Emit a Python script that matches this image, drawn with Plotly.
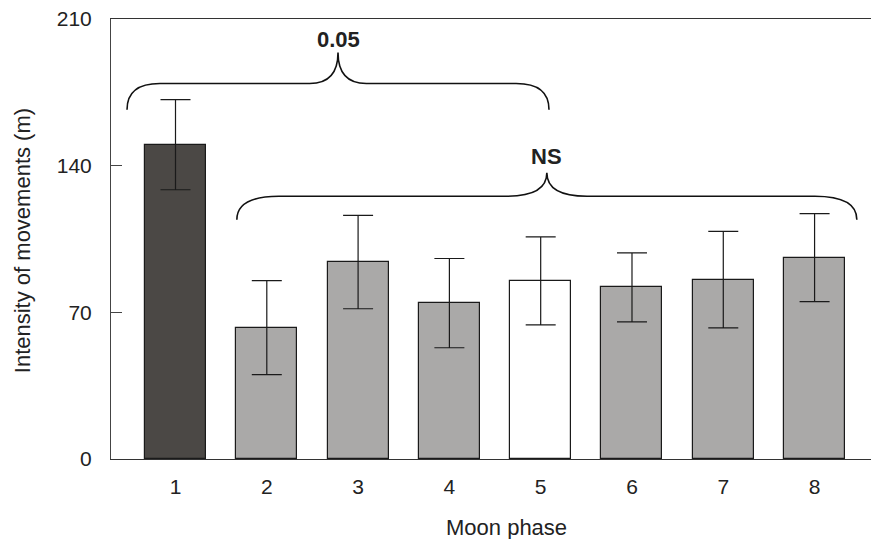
import plotly.graph_objects as go

# ---- data ----
phases = [1, 2, 3, 4, 5, 6, 7, 8]
tick_labels = ["1", "2", "3", "4", "5", "6", "7", "8"]
means = [150.0, 62.7, 94.0, 74.4, 85.0, 81.9, 85.6, 96.1]
errors = [21.5, 22.4, 22.3, 21.3, 21.0, 16.5, 23.0, 21.0]
bar_colors = ["#4b4845", "#aaa9a8", "#aaa9a8", "#aaa9a8", "#ffffff", "#aaa9a8", "#aaa9a8", "#aaa9a8"]
y_ticks = [0, 70, 140, 210]
labels_sig = ["<b>0.05</b>", "<b>NS</b>"]

FONT = "Arial, Liberation Sans, sans-serif"

fig = go.Figure()
fig.add_trace(go.Bar(
    x=phases, y=means, width=0.668,
    marker=dict(color=bar_colors, line=dict(color="#1a1a1a", width=1.2)),
    error_y=dict(type="data", array=errors, visible=True,
                 color="#1a1a1a", thickness=1.2, width=15),
    showlegend=False,
))

# braces (layout decoration): x0, x1, y_end, y_line, y_tip, end-curve width, mid-curve width, label y
braces = [
    dict(x0=0.469, x1=5.091, ye=166.7, yl=179.2, yt=194.0, a=0.36, b=0.31, ty=200.4),
    dict(x0=1.672, x1=8.463, ye=114.2, yl=125.4, yt=136.6, a=0.46, b=0.44, ty=144.2),
]

def brace_path(p):
    x0, x1, ye, yl, yt, a, b = p["x0"], p["x1"], p["ye"], p["yl"], p["yt"], p["a"], p["b"]
    xm = (x0 + x1) / 2
    return (f"M {x0},{ye} Q {x0},{yl} {x0+a},{yl} "
            f"L {xm-b},{yl} Q {xm},{yl} {xm},{yt} "
            f"Q {xm},{yl} {xm+b},{yl} "
            f"L {x1-a},{yl} Q {x1},{yl} {x1},{ye}")

shapes = []
annotations = []
for p, lab in zip(braces, labels_sig):
    shapes.append(dict(type="path", xref="x", yref="y", path=brace_path(p),
                       line=dict(color="#111111", width=1.6)))
    annotations.append(dict(x=(p["x0"] + p["x1"]) / 2, y=p["ty"], xref="x", yref="y",
                            text=lab, showarrow=False, yanchor="middle",
                            font=dict(family=FONT, size=22, color="#222222")))

# axis titles
annotations.append(dict(x=(506 - 111) / 760, y=(459.5 - 528) / 440.2, xref="paper", yref="paper",
                        text="Moon phase", showarrow=False, xanchor="center", yanchor="middle",
                        font=dict(family=FONT, size=22, color="#222222")))
annotations.append(dict(x=(22 - 111) / 760, y=0.495, xref="paper", yref="paper",
                        text="Intensity of movements (m)", showarrow=False, textangle=-90,
                        xanchor="center", yanchor="middle",
                        font=dict(family=FONT, size=22, color="#222222")))

fig.update_layout(
    width=871, height=539,
    margin=dict(l=111, r=0, t=19, b=80, autoexpand=False),
    paper_bgcolor="white", plot_bgcolor="white",
    font=dict(family=FONT, size=21, color="#222222"),
    shapes=shapes, annotations=annotations,
    bargap=0,
)
fig.update_xaxes(range=[0.2935, 8.618], tickvals=phases, ticktext=tick_labels,
                 showline=True, linecolor="#333333", linewidth=1, mirror=True,
                 ticks="", showgrid=False, zeroline=False, ticklabelstandoff=9,
                 tickfont=dict(size=21))
fig.update_yaxes(range=[0, 210], tickvals=y_ticks,
                 showline=True, linecolor="#444444", linewidth=1,
                 ticks="inside", ticklen=11, tickcolor="#444444",
                 showgrid=False, zeroline=False, ticklabelstandoff=14,
                 tickfont=dict(size=21))

fig.write_html("out.html", config={"displayModeBar": False},
               post_script="document.body.style.margin='0';document.body.style.overflow='hidden';")
